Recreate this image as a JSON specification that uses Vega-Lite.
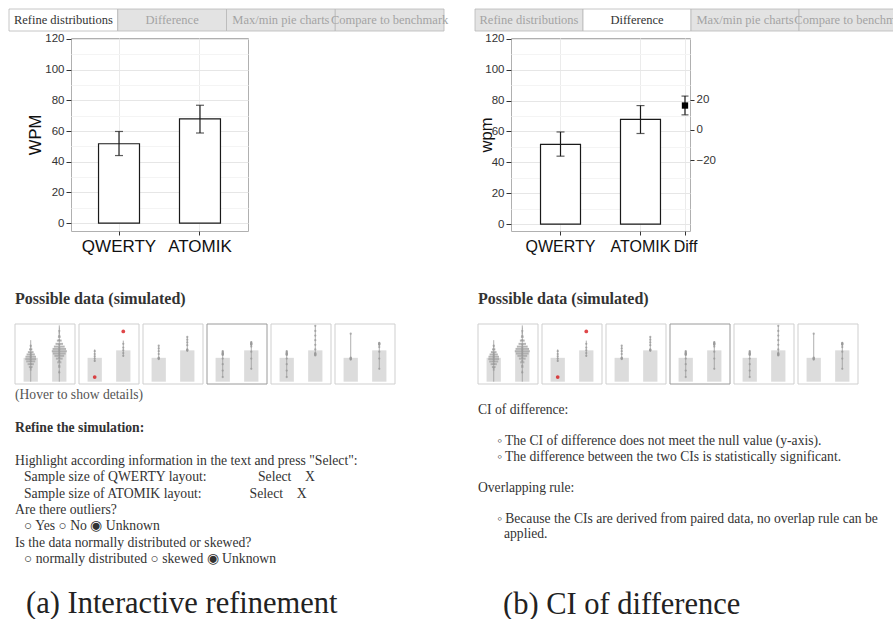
{
  "$schema": "https://vega.github.io/schema/vega-lite/v6.json",
  "background": "white",
  "padding": {"left": 8, "top": 8, "right": 0, "bottom": 0},
  "config": {"view": {"stroke": null}},
  "datasets": {
    "means": [
      {"layout": "QWERTY", "wpm": 51.7, "lo": 44.0, "hi": 59.7},
      {"layout": "ATOMIK", "wpm": 67.9, "lo": 58.7, "hi": 76.8}
    ],
    "diff": [{"layout": "Diff", "wpm": 16.3, "lo": 10.1, "hi": 22.6}],
    "tabs": [
      {"panel": "a", "tab": "Refine distributions", "active": true},
      {"panel": "a", "tab": "Difference", "active": false},
      {"panel": "a", "tab": "Max/min pie charts", "active": false},
      {"panel": "a", "tab": "Compare to benchmark", "active": false},
      {"panel": "b", "tab": "Refine distributions", "active": false},
      {"panel": "b", "tab": "Difference", "active": true},
      {"panel": "b", "tab": "Max/min pie charts", "active": false},
      {"panel": "b", "tab": "Compare to benchmark", "active": false}
    ],
    "sims": [
      {"sim": 1, "hover": false}, {"sim": 2, "hover": false}, {"sim": 3, "hover": false},
      {"sim": 4, "hover": true}, {"sim": 5, "hover": false}, {"sim": 6, "hover": false}
    ],
    "simBars": [
      {"sim": 1, "layout": "QWERTY", "wpm": 51.7}, {"sim": 1, "layout": "ATOMIK", "wpm": 67.9},
      {"sim": 2, "layout": "QWERTY", "wpm": 51.7}, {"sim": 2, "layout": "ATOMIK", "wpm": 67.9},
      {"sim": 3, "layout": "QWERTY", "wpm": 51.7}, {"sim": 3, "layout": "ATOMIK", "wpm": 67.9},
      {"sim": 4, "layout": "QWERTY", "wpm": 51.7}, {"sim": 4, "layout": "ATOMIK", "wpm": 67.9},
      {"sim": 5, "layout": "QWERTY", "wpm": 51.7}, {"sim": 5, "layout": "ATOMIK", "wpm": 67.9},
      {"sim": 6, "layout": "QWERTY", "wpm": 51.7}, {"sim": 6, "layout": "ATOMIK", "wpm": 67.9}
    ],
    "simRanges": [
      {"sim": 1, "layout": "QWERTY", "lo": 0, "hi": 90}, {"sim": 1, "layout": "ATOMIK", "lo": 0, "hi": 122},
      {"sim": 2, "layout": "QWERTY", "lo": 43, "hi": 70}, {"sim": 2, "layout": "ATOMIK", "lo": 54, "hi": 89},
      {"sim": 3, "layout": "QWERTY", "lo": 49, "hi": 78}, {"sim": 3, "layout": "ATOMIK", "lo": 67, "hi": 97},
      {"sim": 4, "layout": "QWERTY", "lo": 10, "hi": 67}, {"sim": 4, "layout": "ATOMIK", "lo": 28, "hi": 87},
      {"sim": 5, "layout": "QWERTY", "lo": 10, "hi": 67}, {"sim": 5, "layout": "ATOMIK", "lo": 57, "hi": 121},
      {"sim": 6, "layout": "QWERTY", "lo": 49, "hi": 104}, {"sim": 6, "layout": "ATOMIK", "lo": 28, "hi": 86}
    ],
    "simDensity": [
      {"sim": 1, "layout": "QWERTY", "wpm": 26, "density": 0.12}, {"sim": 1, "layout": "QWERTY", "wpm": 32, "density": 0.25},
      {"sim": 1, "layout": "QWERTY", "wpm": 38, "density": 0.42}, {"sim": 1, "layout": "QWERTY", "wpm": 44, "density": 0.6},
      {"sim": 1, "layout": "QWERTY", "wpm": 49, "density": 0.72}, {"sim": 1, "layout": "QWERTY", "wpm": 54, "density": 0.7},
      {"sim": 1, "layout": "QWERTY", "wpm": 59, "density": 0.55}, {"sim": 1, "layout": "QWERTY", "wpm": 64, "density": 0.38},
      {"sim": 1, "layout": "QWERTY", "wpm": 70, "density": 0.22}, {"sim": 1, "layout": "QWERTY", "wpm": 76, "density": 0.1},
      {"sim": 1, "layout": "ATOMIK", "wpm": 22, "density": 0.08}, {"sim": 1, "layout": "ATOMIK", "wpm": 32, "density": 0.15},
      {"sim": 1, "layout": "ATOMIK", "wpm": 42, "density": 0.28}, {"sim": 1, "layout": "ATOMIK", "wpm": 50, "density": 0.45},
      {"sim": 1, "layout": "ATOMIK", "wpm": 56, "density": 0.65}, {"sim": 1, "layout": "ATOMIK", "wpm": 61, "density": 0.85},
      {"sim": 1, "layout": "ATOMIK", "wpm": 66, "density": 1.0}, {"sim": 1, "layout": "ATOMIK", "wpm": 71, "density": 0.9},
      {"sim": 1, "layout": "ATOMIK", "wpm": 76, "density": 0.72}, {"sim": 1, "layout": "ATOMIK", "wpm": 82, "density": 0.5},
      {"sim": 1, "layout": "ATOMIK", "wpm": 89, "density": 0.32}, {"sim": 1, "layout": "ATOMIK", "wpm": 97, "density": 0.18},
      {"sim": 1, "layout": "ATOMIK", "wpm": 106, "density": 0.09}, {"sim": 1, "layout": "ATOMIK", "wpm": 115, "density": 0.04}
    ],
    "simDots": [
      {"sim": 1, "layout": "QWERTY", "wpm": 30}, {"sim": 1, "layout": "QWERTY", "wpm": 38}, {"sim": 1, "layout": "QWERTY", "wpm": 44},
      {"sim": 1, "layout": "QWERTY", "wpm": 48}, {"sim": 1, "layout": "QWERTY", "wpm": 52}, {"sim": 1, "layout": "QWERTY", "wpm": 55},
      {"sim": 1, "layout": "QWERTY", "wpm": 58}, {"sim": 1, "layout": "QWERTY", "wpm": 62}, {"sim": 1, "layout": "QWERTY", "wpm": 70},
      {"sim": 1, "layout": "QWERTY", "wpm": 78},
      {"sim": 1, "layout": "ATOMIK", "wpm": 20}, {"sim": 1, "layout": "ATOMIK", "wpm": 35}, {"sim": 1, "layout": "ATOMIK", "wpm": 45},
      {"sim": 1, "layout": "ATOMIK", "wpm": 52}, {"sim": 1, "layout": "ATOMIK", "wpm": 58}, {"sim": 1, "layout": "ATOMIK", "wpm": 62},
      {"sim": 1, "layout": "ATOMIK", "wpm": 66}, {"sim": 1, "layout": "ATOMIK", "wpm": 70}, {"sim": 1, "layout": "ATOMIK", "wpm": 74},
      {"sim": 1, "layout": "ATOMIK", "wpm": 80}, {"sim": 1, "layout": "ATOMIK", "wpm": 90}, {"sim": 1, "layout": "ATOMIK", "wpm": 100},
      {"sim": 1, "layout": "ATOMIK", "wpm": 110},
      {"sim": 2, "layout": "QWERTY", "wpm": 45}, {"sim": 2, "layout": "QWERTY", "wpm": 50}, {"sim": 2, "layout": "QWERTY", "wpm": 55},
      {"sim": 2, "layout": "QWERTY", "wpm": 60}, {"sim": 2, "layout": "QWERTY", "wpm": 66}, {"sim": 2, "layout": "QWERTY", "wpm": 10, "outlier": true},
      {"sim": 2, "layout": "ATOMIK", "wpm": 56}, {"sim": 2, "layout": "ATOMIK", "wpm": 62}, {"sim": 2, "layout": "ATOMIK", "wpm": 68},
      {"sim": 2, "layout": "ATOMIK", "wpm": 74}, {"sim": 2, "layout": "ATOMIK", "wpm": 82}, {"sim": 2, "layout": "ATOMIK", "wpm": 109, "outlier": true},
      {"sim": 3, "layout": "QWERTY", "wpm": 49}, {"sim": 3, "layout": "QWERTY", "wpm": 50}, {"sim": 3, "layout": "QWERTY", "wpm": 51},
      {"sim": 3, "layout": "QWERTY", "wpm": 52}, {"sim": 3, "layout": "QWERTY", "wpm": 60}, {"sim": 3, "layout": "QWERTY", "wpm": 66},
      {"sim": 3, "layout": "QWERTY", "wpm": 72}, {"sim": 3, "layout": "QWERTY", "wpm": 78},
      {"sim": 3, "layout": "ATOMIK", "wpm": 67}, {"sim": 3, "layout": "ATOMIK", "wpm": 68}, {"sim": 3, "layout": "ATOMIK", "wpm": 69},
      {"sim": 3, "layout": "ATOMIK", "wpm": 70}, {"sim": 3, "layout": "ATOMIK", "wpm": 79}, {"sim": 3, "layout": "ATOMIK", "wpm": 85},
      {"sim": 3, "layout": "ATOMIK", "wpm": 91}, {"sim": 3, "layout": "ATOMIK", "wpm": 97},
      {"sim": 4, "layout": "QWERTY", "wpm": 10}, {"sim": 4, "layout": "QWERTY", "wpm": 24}, {"sim": 4, "layout": "QWERTY", "wpm": 38},
      {"sim": 4, "layout": "QWERTY", "wpm": 50}, {"sim": 4, "layout": "QWERTY", "wpm": 58}, {"sim": 4, "layout": "QWERTY", "wpm": 59},
      {"sim": 4, "layout": "QWERTY", "wpm": 60}, {"sim": 4, "layout": "QWERTY", "wpm": 61}, {"sim": 4, "layout": "QWERTY", "wpm": 62},
      {"sim": 4, "layout": "QWERTY", "wpm": 64}, {"sim": 4, "layout": "QWERTY", "wpm": 66},
      {"sim": 4, "layout": "ATOMIK", "wpm": 28}, {"sim": 4, "layout": "ATOMIK", "wpm": 50}, {"sim": 4, "layout": "ATOMIK", "wpm": 65},
      {"sim": 4, "layout": "ATOMIK", "wpm": 76}, {"sim": 4, "layout": "ATOMIK", "wpm": 80}, {"sim": 4, "layout": "ATOMIK", "wpm": 81},
      {"sim": 4, "layout": "ATOMIK", "wpm": 82}, {"sim": 4, "layout": "ATOMIK", "wpm": 83}, {"sim": 4, "layout": "ATOMIK", "wpm": 84},
      {"sim": 4, "layout": "ATOMIK", "wpm": 86},
      {"sim": 5, "layout": "QWERTY", "wpm": 10}, {"sim": 5, "layout": "QWERTY", "wpm": 24}, {"sim": 5, "layout": "QWERTY", "wpm": 38},
      {"sim": 5, "layout": "QWERTY", "wpm": 50}, {"sim": 5, "layout": "QWERTY", "wpm": 58}, {"sim": 5, "layout": "QWERTY", "wpm": 59},
      {"sim": 5, "layout": "QWERTY", "wpm": 60}, {"sim": 5, "layout": "QWERTY", "wpm": 61}, {"sim": 5, "layout": "QWERTY", "wpm": 62},
      {"sim": 5, "layout": "QWERTY", "wpm": 64}, {"sim": 5, "layout": "QWERTY", "wpm": 66},
      {"sim": 5, "layout": "ATOMIK", "wpm": 57}, {"sim": 5, "layout": "ATOMIK", "wpm": 58}, {"sim": 5, "layout": "ATOMIK", "wpm": 59},
      {"sim": 5, "layout": "ATOMIK", "wpm": 60}, {"sim": 5, "layout": "ATOMIK", "wpm": 61}, {"sim": 5, "layout": "ATOMIK", "wpm": 62},
      {"sim": 5, "layout": "ATOMIK", "wpm": 70}, {"sim": 5, "layout": "ATOMIK", "wpm": 80}, {"sim": 5, "layout": "ATOMIK", "wpm": 90},
      {"sim": 5, "layout": "ATOMIK", "wpm": 100}, {"sim": 5, "layout": "ATOMIK", "wpm": 110}, {"sim": 5, "layout": "ATOMIK", "wpm": 121},
      {"sim": 6, "layout": "QWERTY", "wpm": 48}, {"sim": 6, "layout": "QWERTY", "wpm": 49}, {"sim": 6, "layout": "QWERTY", "wpm": 50},
      {"sim": 6, "layout": "QWERTY", "wpm": 51}, {"sim": 6, "layout": "QWERTY", "wpm": 52}, {"sim": 6, "layout": "QWERTY", "wpm": 104},
      {"sim": 6, "layout": "ATOMIK", "wpm": 28}, {"sim": 6, "layout": "ATOMIK", "wpm": 50}, {"sim": 6, "layout": "ATOMIK", "wpm": 65},
      {"sim": 6, "layout": "ATOMIK", "wpm": 75}, {"sim": 6, "layout": "ATOMIK", "wpm": 80}, {"sim": 6, "layout": "ATOMIK", "wpm": 81},
      {"sim": 6, "layout": "ATOMIK", "wpm": 82}, {"sim": 6, "layout": "ATOMIK", "wpm": 83}, {"sim": 6, "layout": "ATOMIK", "wpm": 84}
    ],
    "notesA": [
      {"line": 0, "role": "hint", "text": "(Hover to show details)"},
      {"line": 2, "role": "heading", "text": "Refine the simulation:"},
      {"line": 4, "role": "body", "text": "Highlight according information in the text and press \"Select\":"},
      {"line": 5, "role": "field", "text": "Sample size of QWERTY layout:\u00a0\u00a0\u00a0\u00a0\u00a0\u00a0\u00a0\u00a0\u00a0\u00a0\u00a0\u00a0\u00a0\u00a0\u00a0Select\u00a0\u00a0\u00a0\u00a0X"},
      {"line": 6, "role": "field", "text": "Sample size of ATOMIK layout:\u00a0\u00a0\u00a0\u00a0\u00a0\u00a0\u00a0\u00a0\u00a0\u00a0\u00a0\u00a0\u00a0\u00a0Select\u00a0\u00a0\u00a0\u00a0X"},
      {"line": 7, "role": "body", "text": "Are there outliers?"},
      {"line": 8, "role": "field", "text": "\u25cb Yes \u25cb No \u25c9 Unknown"},
      {"line": 9, "role": "body", "text": "Is the data normally distributed or skewed?"},
      {"line": 10, "role": "field", "text": "\u25cb normally distributed \u25cb skewed \u25c9 Unknown"}
    ],
    "notesB": [
      {"line": 1, "role": "body", "text": "CI of difference:"},
      {"line": 3, "role": "bullet", "text": "\u25e6 The CI of difference does not meet the null value (y-axis)."},
      {"line": 4, "role": "bullet", "text": "\u25e6 The difference between the two CIs is statistically significant."},
      {"line": 6, "role": "body", "text": "Overlapping rule:"},
      {"line": 8, "role": "bullet", "text": "\u25e6 Because the CIs are derived from paired data, no overlap rule can be"},
      {"line": 9, "role": "continued", "text": "applied."}
    ]
  },
  "vconcat": [
    {
      "hconcat": [
        {
          "width": 373, "height": 22,
          "data": {"name": "tabs"},
          "transform": [{"filter": "datum.panel === 'a'"}],
          "encoding": {
            "x": {"field": "tab", "type": "nominal",
              "sort": ["Refine distributions", "Difference", "Max/min pie charts", "Compare to benchmark"],
              "scale": {"range": [-62, 373], "paddingInner": 0, "paddingOuter": 0}, "axis": null}
          },
          "layer": [
            {"mark": {"type": "rect", "stroke": "#b8b8b8", "strokeWidth": 0.8},
             "encoding": {"fill": {"condition": {"test": "datum.active", "value": "white"}, "value": "#e3e3e3"}}},
            {"mark": {"type": "text", "font": "Liberation Serif", "fontSize": 12.5, "baseline": "middle"},
             "encoding": {"text": {"field": "tab"},
               "color": {"condition": {"test": "datum.active", "value": "#333333"}, "value": "#a3a3a3"}}}
          ]
        },
        {
          "width": 432, "height": 22,
          "data": {"name": "tabs"},
          "transform": [{"filter": "datum.panel === 'b'"}],
          "encoding": {
            "x": {"field": "tab", "type": "nominal",
              "sort": ["Refine distributions", "Difference", "Max/min pie charts", "Compare to benchmark"],
              "scale": {"paddingInner": 0, "paddingOuter": 0}, "axis": null}
          },
          "layer": [
            {"mark": {"type": "rect", "stroke": "#b8b8b8", "strokeWidth": 0.8},
             "encoding": {"fill": {"condition": {"test": "datum.active", "value": "white"}, "value": "#e3e3e3"}}},
            {"mark": {"type": "text", "font": "Liberation Serif", "fontSize": 12.5, "baseline": "middle"},
             "encoding": {"text": {"field": "tab"},
               "color": {"condition": {"test": "datum.active", "value": "#333333"}, "value": "#a3a3a3"}}}
          ]
        }
      ],
      "spacing": 31,
      "bounds": "flush"
    },
    {
      "vconcat": [
        {
          "hconcat": [
            {
              "width": 177, "height": 193,
              "data": {"name": "means"},
              "view": {"stroke": "#b0b0b0"},
              "encoding": {
                "x": {"field": "layout", "type": "nominal", "sort": ["QWERTY", "ATOMIK"],
                  "scale": {"paddingInner": 0.494, "paddingOuter": 0.34},
                  "axis": {"title": null, "labelAngle": 0, "labelFont": "Liberation Sans", "labelFontSize": 17,
                    "labelColor": "#111111", "labelPadding": 3, "domain": false, "tickSize": 4, "tickColor": "#333333",
                    "grid": true, "gridColor": "#ebebeb", "bandPosition": 0.5}},
                "y": {"field": "wpm", "type": "quantitative",
                  "scale": {"domain": [-5.2, 120.65], "nice": false, "zero": false},
                  "axis": {"title": "WPM", "titleFont": "Liberation Sans", "titleFontSize": 16.5, "titleFontWeight": "normal",
                    "titleColor": "#111111", "titlePadding": 1,
                    "values": [0, 10, 20, 30, 40, 50, 60, 70, 80, 90, 100, 110, 120],
                    "labelExpr": "datum.value % 20 === 0 ? datum.label : ''",
                    "labelFont": "Liberation Sans", "labelFontSize": 11.5, "labelColor": "#333333", "labelPadding": 2,
                    "domain": false, "tickSize": 5, "tickColor": "#333333",
                    "tickOpacity": {"condition": {"test": "datum.value % 20 !== 0", "value": 0}, "value": 1},
                    "gridColor": {"condition": {"test": "datum.value % 20 !== 0", "value": "#f4f4f4"}, "value": "#e6e6e6"}}}
              },
              "layer": [
                {"mark": {"type": "bar", "fill": "white", "stroke": "#1a1a1a", "strokeWidth": 1.2}},
                {"mark": {"type": "rule", "color": "#1a1a1a", "strokeWidth": 1.2},
                 "encoding": {"y": {"field": "lo", "type": "quantitative"}, "y2": {"field": "hi"}}},
                {"mark": {"type": "tick", "color": "#1a1a1a", "size": 8, "thickness": 1.2},
                 "encoding": {"y": {"field": "lo", "type": "quantitative"}}},
                {"mark": {"type": "tick", "color": "#1a1a1a", "size": 8, "thickness": 1.2},
                 "encoding": {"y": {"field": "hi", "type": "quantitative"}}}
              ]
            },
            {
              "width": 179, "height": 193,
              "view": {"stroke": "#b0b0b0"},
              "layer": [
                {
                  "data": {"name": "means"},
                  "encoding": {
                    "x": {"field": "layout", "type": "nominal", "sort": ["QWERTY", "ATOMIK"],
                      "scale": {"paddingInner": 0.5, "paddingOuter": 0.369},
                      "axis": {"title": null, "orient": "bottom", "labelAngle": 0, "labelFont": "Liberation Sans", "labelFontSize": 16,
                        "labelColor": "#111111", "labelPadding": 3, "domain": false, "tickSize": 4, "tickColor": "#333333",
                        "grid": true, "gridColor": "#ebebeb", "bandPosition": 0.5}},
                    "y": {"field": "wpm", "type": "quantitative",
                      "scale": {"domain": [-4.5, 120.6], "nice": false, "zero": false},
                      "axis": {"title": "wpm", "titleFont": "Liberation Sans", "titleFontSize": 16.5, "titleFontWeight": "normal",
                        "titleColor": "#111111", "titlePadding": -10,
                        "values": [0, 10, 20, 30, 40, 50, 60, 70, 80, 90, 100, 110, 120],
                        "labelExpr": "datum.value % 20 === 0 ? datum.label : ''",
                        "labelFont": "Liberation Sans", "labelFontSize": 11.5, "labelColor": "#333333", "labelPadding": 2,
                        "domain": false, "tickSize": 5, "tickColor": "#333333",
                        "tickOpacity": {"condition": {"test": "datum.value % 20 !== 0", "value": 0}, "value": 1},
                        "gridColor": {"condition": {"test": "datum.value % 20 !== 0", "value": "#f4f4f4"}, "value": "#e6e6e6"}}}
                  },
                  "layer": [
                    {"mark": {"type": "bar", "fill": "white", "stroke": "#1a1a1a", "strokeWidth": 1.2}},
                    {"mark": {"type": "rule", "color": "#1a1a1a", "strokeWidth": 1.2},
                     "encoding": {"y": {"field": "lo", "type": "quantitative"}, "y2": {"field": "hi"}}},
                    {"mark": {"type": "tick", "color": "#1a1a1a", "size": 8, "thickness": 1.2},
                     "encoding": {"y": {"field": "lo", "type": "quantitative"}}},
                    {"mark": {"type": "tick", "color": "#1a1a1a", "size": 8, "thickness": 1.2},
                     "encoding": {"y": {"field": "hi", "type": "quantitative"}}}
                  ]
                },
                {
                  "data": {"name": "diff"},
                  "encoding": {
                    "x": {"field": "layout", "type": "nominal",
                      "scale": {"type": "point", "padding": 0.5, "align": 0.972},
                      "axis": {"title": null, "orient": "bottom", "labelAngle": 0, "labelFont": "Liberation Sans", "labelFontSize": 16,
                        "labelColor": "#111111", "labelPadding": 3, "domain": false, "tickSize": 4, "tickColor": "#333333",
                        "grid": true, "gridColor": "#ebebeb"}},
                    "y": {"field": "wpm", "type": "quantitative",
                      "scale": {"domain": [-67.3, 61.3], "nice": false, "zero": false},
                      "axis": {"title": null, "orient": "right", "values": [-20, 0, 20], "grid": false, "domain": false,
                        "labelFont": "Liberation Sans", "labelFontSize": 11.5, "labelColor": "#333333", "labelPadding": 2,
                        "tickSize": 4, "tickColor": "#333333"}}
                  },
                  "layer": [
                    {"mark": {"type": "rule", "color": "#1a1a1a", "strokeWidth": 1.2},
                     "encoding": {"y": {"field": "lo", "type": "quantitative"}, "y2": {"field": "hi"}}},
                    {"mark": {"type": "tick", "color": "#1a1a1a", "size": 7, "thickness": 1.2},
                     "encoding": {"y": {"field": "lo", "type": "quantitative"}}},
                    {"mark": {"type": "tick", "color": "#1a1a1a", "size": 7, "thickness": 1.2},
                     "encoding": {"y": {"field": "hi", "type": "quantitative"}}},
                    {"mark": {"type": "point", "shape": "square", "filled": true, "color": "#000000", "size": 40, "opacity": 1}}
                  ]
                }
              ],
              "resolve": {"scale": {"x": "independent", "y": "independent"}}
            }
          ],
          "spacing": 263,
          "bounds": "flush"
        },
        {
          "vconcat": [
            {
              "hconcat": [
                {
                  "width": 324, "height": 60,
                  "title": {"text": "Possible data (simulated)", "anchor": "start", "frame": "group", "dx": -56, "offset": 17,
                    "font": "Liberation Serif", "fontSize": 16, "fontWeight": "bold", "color": "#333333"},
                  "encoding": {
                    "x": {"field": "sim", "type": "ordinal",
                      "scale": {"domain": [1, 2, 3, 4, 5, 6], "range": [-56, 324], "paddingInner": 0.0625, "paddingOuter": 0},
                      "axis": null}
                  },
                  "layer": [
                    {"data": {"name": "sims"}, "mark": {"type": "rect", "fill": "white", "strokeWidth": 1},
                     "encoding": {"stroke": {"condition": {"test": "datum.hover", "value": "#9a9a9a"}, "value": "#cfcfcf"}}},
                    {"data": {"name": "simBars"}, "mark": {"type": "bar", "color": "#dcdcdc"},
                     "encoding": {
                       "xOffset": {"field": "layout", "type": "nominal", "sort": ["QWERTY", "ATOMIK"], "scale": {"paddingInner": 0.5, "paddingOuter": 0.3}},
                       "y": {"field": "wpm", "type": "quantitative", "scale": {"domain": [-5, 125], "nice": false, "zero": false}, "axis": null}}},
                    {"data": {"name": "simDensity"}, "mark": {"type": "tick", "thickness": 2, "color": "#a8a8a8", "opacity": 0.85},
                     "encoding": {
                       "xOffset": {"field": "layout", "type": "nominal", "sort": ["QWERTY", "ATOMIK"]},
                       "y": {"field": "wpm", "type": "quantitative"},
                       "size": {"field": "density", "type": "quantitative", "scale": {"domain": [0, 1], "range": [0, 15]}, "legend": null}}},
                    {"data": {"name": "simRanges"}, "mark": {"type": "rule", "color": "#9a9a9a", "strokeWidth": 0.8},
                     "encoding": {
                       "xOffset": {"field": "layout", "type": "nominal", "sort": ["QWERTY", "ATOMIK"]},
                       "y": {"field": "lo", "type": "quantitative"}, "y2": {"field": "hi"}}},
                    {"data": {"name": "simDots"}, "mark": {"type": "circle", "opacity": 0.8},
                     "encoding": {
                       "xOffset": {"field": "layout", "type": "nominal", "sort": ["QWERTY", "ATOMIK"]},
                       "y": {"field": "wpm", "type": "quantitative"},
                       "color": {"condition": {"test": "datum.outlier", "value": "#d7191c"}, "value": "#9a9a9a"},
                       "size": {"condition": {"test": "datum.outlier", "value": 14}, "value": 5}}}
                  ]
                },
                {
                  "width": 380, "height": 60,
                  "title": {"text": "Possible data (simulated)", "anchor": "start", "frame": "group", "offset": 17,
                    "font": "Liberation Serif", "fontSize": 16, "fontWeight": "bold", "color": "#333333"},
                  "encoding": {
                    "x": {"field": "sim", "type": "ordinal",
                      "scale": {"domain": [1, 2, 3, 4, 5, 6], "paddingInner": 0.0625, "paddingOuter": 0},
                      "axis": null}
                  },
                  "layer": [
                    {"data": {"name": "sims"}, "mark": {"type": "rect", "fill": "white", "strokeWidth": 1},
                     "encoding": {"stroke": {"condition": {"test": "datum.hover", "value": "#9a9a9a"}, "value": "#cfcfcf"}}},
                    {"data": {"name": "simBars"}, "mark": {"type": "bar", "color": "#dcdcdc"},
                     "encoding": {
                       "xOffset": {"field": "layout", "type": "nominal", "sort": ["QWERTY", "ATOMIK"], "scale": {"paddingInner": 0.5, "paddingOuter": 0.3}},
                       "y": {"field": "wpm", "type": "quantitative", "scale": {"domain": [-5, 125], "nice": false, "zero": false}, "axis": null}}},
                    {"data": {"name": "simDensity"}, "mark": {"type": "tick", "thickness": 2, "color": "#a8a8a8", "opacity": 0.85},
                     "encoding": {
                       "xOffset": {"field": "layout", "type": "nominal", "sort": ["QWERTY", "ATOMIK"]},
                       "y": {"field": "wpm", "type": "quantitative"},
                       "size": {"field": "density", "type": "quantitative", "scale": {"domain": [0, 1], "range": [0, 15]}, "legend": null}}},
                    {"data": {"name": "simRanges"}, "mark": {"type": "rule", "color": "#9a9a9a", "strokeWidth": 0.8},
                     "encoding": {
                       "xOffset": {"field": "layout", "type": "nominal", "sort": ["QWERTY", "ATOMIK"]},
                       "y": {"field": "lo", "type": "quantitative"}, "y2": {"field": "hi"}}},
                    {"data": {"name": "simDots"}, "mark": {"type": "circle", "opacity": 0.8},
                     "encoding": {
                       "xOffset": {"field": "layout", "type": "nominal", "sort": ["QWERTY", "ATOMIK"]},
                       "y": {"field": "wpm", "type": "quantitative"},
                       "color": {"condition": {"test": "datum.outlier", "value": "#d7191c"}, "value": "#9a9a9a"},
                       "size": {"condition": {"test": "datum.outlier", "value": 14}, "value": 5}}}
                  ]
                }
              ],
              "spacing": 83,
              "bounds": "flush"
            },
            {
              "hconcat": [
                {
                  "width": 377, "height": 180.4,
                  "data": {"name": "notesA"},
                  "title": {"text": "(a) Interactive refinement", "orient": "bottom", "anchor": "start", "frame": "group",
                    "dx": -45, "offset": 22, "font": "Liberation Serif", "fontSize": 30.5, "fontWeight": "normal", "color": "#222222"},
                  "encoding": {
                    "y": {"field": "line", "type": "quantitative",
                      "scale": {"domain": [-0.5, 10.5], "reverse": true, "nice": false, "zero": false}, "axis": null},
                    "x": {"value": 0},
                    "text": {"field": "text"}
                  },
                  "layer": [
                    {"transform": [{"filter": "datum.role === 'body'"}],
                     "mark": {"type": "text", "align": "left", "baseline": "middle", "dx": -56,
                       "font": "Liberation Serif", "fontSize": 13.7, "color": "#333333"}},
                    {"transform": [{"filter": "datum.role === 'field'"}],
                     "mark": {"type": "text", "align": "left", "baseline": "middle", "dx": -47,
                       "font": "Liberation Serif", "fontSize": 13.7, "color": "#333333"}},
                    {"transform": [{"filter": "datum.role === 'heading'"}],
                     "mark": {"type": "text", "align": "left", "baseline": "middle", "dx": -56,
                       "font": "Liberation Serif", "fontSize": 13.7, "fontWeight": "bold", "color": "#333333"}},
                    {"transform": [{"filter": "datum.role === 'hint'"}],
                     "mark": {"type": "text", "align": "left", "baseline": "middle", "dx": -56,
                       "font": "Liberation Serif", "fontSize": 13.6, "color": "#555555"}}
                  ]
                },
                {
                  "width": 416, "height": 170.5,
                  "data": {"name": "notesB"},
                  "title": {"text": "(b) CI of difference", "orient": "bottom", "anchor": "start", "frame": "group",
                    "dx": 25, "offset": 32, "font": "Liberation Serif", "fontSize": 30.5, "fontWeight": "normal", "color": "#222222"},
                  "encoding": {
                    "y": {"field": "line", "type": "quantitative",
                      "scale": {"domain": [-0.5, 10.5], "reverse": true, "nice": false, "zero": false}, "axis": null},
                    "x": {"value": 0},
                    "text": {"field": "text"}
                  },
                  "layer": [
                    {"transform": [{"filter": "datum.role === 'body'"}],
                     "mark": {"type": "text", "align": "left", "baseline": "middle",
                       "font": "Liberation Serif", "fontSize": 13.6, "color": "#333333"}},
                    {"transform": [{"filter": "datum.role === 'bullet'"}],
                     "mark": {"type": "text", "align": "left", "baseline": "middle", "dx": 19,
                       "font": "Liberation Serif", "fontSize": 13.6, "color": "#333333"}},
                    {"transform": [{"filter": "datum.role === 'continued'"}],
                     "mark": {"type": "text", "align": "left", "baseline": "middle", "dx": 26,
                       "font": "Liberation Serif", "fontSize": 13.6, "color": "#333333"}}
                  ]
                }
              ],
              "spacing": 30,
              "bounds": "flush"
            }
          ],
          "spacing": 2
        }
      ],
      "spacing": 35
    }
  ],
  "spacing": 0
}
